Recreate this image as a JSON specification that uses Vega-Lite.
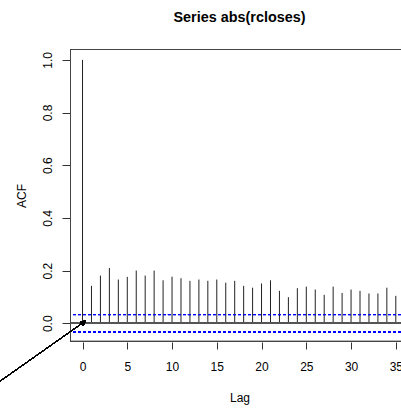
{
  "$schema": "https://vega.github.io/schema/vega-lite/v6.json",
  "width": 331,
  "height": 293,
  "autosize": "none",
  "padding": {"left": 70, "top": 49, "right": 0, "bottom": 66},
  "background": "white",
  "config": {
    "view": {"stroke": null},
    "font": "Liberation Sans",
    "axis": {"grid": false, "domain": false, "tickColor": "#333333", "labelColor": "black", "titleColor": "black", "labelFont": "Liberation Sans", "titleFont": "Liberation Sans", "labelFontSize": 12, "titleFontSize": 12, "titleFontWeight": "normal", "tickWidth": 1}
  },
  "title": {"text": "Series  abs(rcloses)", "font": "Liberation Sans", "fontSize": 14.4, "fontWeight": "bold", "color": "black", "anchor": "middle", "dx": 4, "offset": 24},
  "data": {"values": [
    {"lag": 0, "acf": 1.0},
    {"lag": 1, "acf": 0.142},
    {"lag": 2, "acf": 0.181},
    {"lag": 3, "acf": 0.210},
    {"lag": 4, "acf": 0.166},
    {"lag": 5, "acf": 0.176},
    {"lag": 6, "acf": 0.200},
    {"lag": 7, "acf": 0.181},
    {"lag": 8, "acf": 0.200},
    {"lag": 9, "acf": 0.163},
    {"lag": 10, "acf": 0.177},
    {"lag": 11, "acf": 0.171},
    {"lag": 12, "acf": 0.161},
    {"lag": 13, "acf": 0.166},
    {"lag": 14, "acf": 0.161},
    {"lag": 15, "acf": 0.166},
    {"lag": 16, "acf": 0.154},
    {"lag": 17, "acf": 0.161},
    {"lag": 18, "acf": 0.142},
    {"lag": 19, "acf": 0.135},
    {"lag": 20, "acf": 0.151},
    {"lag": 21, "acf": 0.163},
    {"lag": 22, "acf": 0.123},
    {"lag": 23, "acf": 0.099},
    {"lag": 24, "acf": 0.133},
    {"lag": 25, "acf": 0.139},
    {"lag": 26, "acf": 0.128},
    {"lag": 27, "acf": 0.108},
    {"lag": 28, "acf": 0.139},
    {"lag": 29, "acf": 0.115},
    {"lag": 30, "acf": 0.128},
    {"lag": 31, "acf": 0.123},
    {"lag": 32, "acf": 0.113},
    {"lag": 33, "acf": 0.113},
    {"lag": 34, "acf": 0.135},
    {"lag": 35, "acf": 0.104}
  ]},
  "layer": [
    {
      "mark": {"type": "rule", "color": "#222222", "strokeWidth": 1},
      "encoding": {
        "x": {"field": "lag", "type": "quantitative", "scale": {"domain": [-1.4, 35.58], "nice": false, "zero": false},
              "axis": {"values": [0, 5, 10, 15, 20, 25, 30, 35], "tickSize": 7, "labelPadding": 12, "title": "Lag", "titlePadding": 20, "titleX": 169.5, "labelFlush": false}},
        "y": {"field": "acf", "type": "quantitative", "scale": {"domain": [-0.0712, 1.0412], "nice": false, "zero": false},
              "axis": {"values": [0, 0.2, 0.4, 0.6, 0.8, 1.0], "format": ".1f", "tickSize": 8, "labelAngle": -90, "labelAlign": "center", "labelBaseline": "bottom", "labelPadding": 8, "title": "ACF", "titlePadding": 13}},
        "y2": {"datum": 0}
      }
    },
    {
      "mark": {"type": "rule", "color": "#555555", "strokeWidth": 1.3},
      "encoding": {"y": {"datum": 0, "type": "quantitative"}}
    },
    {
      "mark": {"type": "rule", "color": "#0000FF", "strokeWidth": 0.8, "strokeDash": [3, 2]},
      "encoding": {"y": {"datum": 0.0331, "type": "quantitative"}}
    },
    {
      "mark": {"type": "rule", "color": "#0000FF", "strokeWidth": 0.8, "strokeDash": [3, 2], "opacity": 0.6},
      "encoding": {"y": {"datum": -0.0331, "type": "quantitative"}}
    },
    {
      "mark": {"type": "rect", "fill": null, "stroke": "#444444", "strokeWidth": 1, "clip": false},
      "encoding": {
        "x": {"datum": -1.344, "type": "quantitative"},
        "x2": {"datum": 37.5},
        "y": {"datum": -0.0693, "type": "quantitative"},
        "y2": {"datum": 1.0393}
      }
    },
    {
      "mark": {"type": "rule", "color": "black", "strokeWidth": 1, "clip": false},
      "encoding": {
        "x": {"datum": -9.3, "type": "quantitative"},
        "x2": {"datum": 0.36},
        "y": {"datum": -0.222, "type": "quantitative"},
        "y2": {"datum": 0.0095}
      }
    },
    {
      "mark": {"type": "point", "shape": "M-0.58,1L0,0L0.58,1Z", "filled": true, "color": "black", "opacity": 1, "size": 100, "angle": 54.6, "clip": false},
      "encoding": {
        "x": {"datum": 0.36, "type": "quantitative"},
        "y": {"datum": 0.0095, "type": "quantitative"}
      }
    }
  ]
}
